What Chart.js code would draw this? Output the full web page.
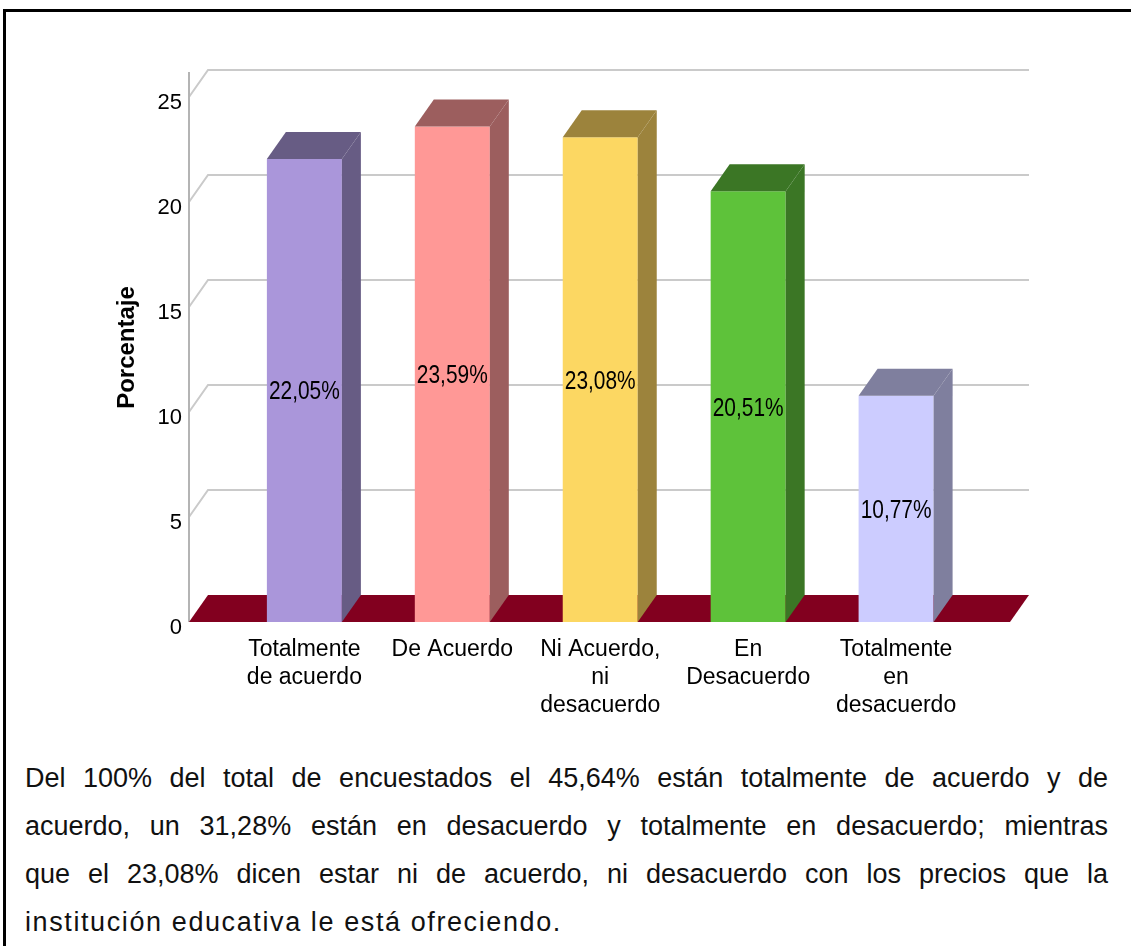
<!DOCTYPE html>
<html>
<head>
<meta charset="utf-8">
<script src="https://cdn.jsdelivr.net/npm/chart.js@4"></script>
<style>
  body { margin: 0; background: #fff; width: 1131px; height: 946px; overflow: hidden; position: relative; font-family: "Liberation Sans", Arial, sans-serif; }
  .frame { position: absolute; left: 3px; top: 9px; width: 1200px; height: 1000px; border: 3px solid #000; box-sizing: border-box; }
  .chart-box { position: absolute; left: 0; top: 0; width: 1131px; height: 740px; }
  .texto { position: absolute; left: 25px; top: 754px; width: 1083px; font-size: 27px; line-height: 48px; color: #111; }
  .texto div { text-align: justify; text-align-last: justify; white-space: nowrap; }
  .texto div.ultima { text-align-last: left; letter-spacing: 1.6px; }
</style>
</head>
<body>
<div class="frame"></div>
<div class="chart-box"><canvas id="grafico" width="1131" height="740"></canvas></div>
<div class="texto">
  <div>Del 100% del total de encuestados el 45,64% están totalmente de acuerdo y de</div>
  <div>acuerdo, un 31,28% están en desacuerdo y totalmente en desacuerdo; mientras</div>
  <div>que el 23,08% dicen estar ni de acuerdo, ni desacuerdo con los precios que la</div>
  <div class="ultima">institución educativa le está ofreciendo.</div>
</div>
<script>
// datos del gráfico
const categorias = [
  ['Totalmente', 'de acuerdo'],
  ['De Acuerdo'],
  ['Ni Acuerdo,', 'ni', 'desacuerdo'],
  ['En', 'Desacuerdo'],
  ['Totalmente', 'en', 'desacuerdo']
]
const porcentajes = [22.05, 23.59, 23.08, 20.51, 10.77]
const ticksY = [0, 5, 10, 15, 20, 25]
const tituloY = 'Porcentaje'

const coloresFrente = ['#aa96da', '#ff9896', '#fcd762', '#5ec23a', '#ccccff']
const coloresLado = ['#675c84', '#9c5e5e', '#9c833c', '#3b7625', '#7f7f9e']
const colorPiso = '#82001f'

// profundidad del efecto 3D
const DX = 19, DY = -27

const efecto3d = {
  id: 'efecto3d',
  beforeDatasetsDraw(chart) {
    const ctx = chart.ctx
    const area = chart.chartArea
    const y = chart.scales.y
    const base = y.getPixelForValue(0)
    ctx.save()
    // lineas de la pared del fondo
    ctx.strokeStyle = '#cacaca'
    ctx.lineWidth = 2
    ticksY.forEach(v => {
      if (v === 0) return
      const py = y.getPixelForValue(v)
      ctx.beginPath()
      ctx.moveTo(area.left, py)
      ctx.lineTo(area.left + DX, py + DY)
      ctx.lineTo(area.right + DX, py + DY)
      ctx.stroke()
    })
    // linea vertical izquierda
    ctx.strokeStyle = '#b4b4b4'
    ctx.beginPath()
    ctx.moveTo(area.left, area.top + DY + 2)
    ctx.lineTo(area.left, base)
    ctx.stroke()
    // piso
    ctx.fillStyle = colorPiso
    ctx.beginPath()
    ctx.moveTo(area.left, base)
    ctx.lineTo(area.right, base)
    ctx.lineTo(area.right + DX, base + DY)
    ctx.lineTo(area.left + DX, base + DY)
    ctx.closePath()
    ctx.fill()
    ctx.restore()
  },
  afterDatasetsDraw(chart) {
    const ctx = chart.ctx
    const barras = chart.getDatasetMeta(0).data
    ctx.save()
    barras.forEach((b, i) => {
      const x0 = b.x - b.width / 2
      const x1 = b.x + b.width / 2
      ctx.fillStyle = coloresLado[i]
      // cara superior
      ctx.beginPath()
      ctx.moveTo(x0, b.y)
      ctx.lineTo(x1, b.y)
      ctx.lineTo(x1 + DX, b.y + DY)
      ctx.lineTo(x0 + DX, b.y + DY)
      ctx.closePath()
      ctx.fill()
      // cara lateral
      ctx.beginPath()
      ctx.moveTo(x1, b.y)
      ctx.lineTo(x1 + DX, b.y + DY)
      ctx.lineTo(x1 + DX, b.base + DY)
      ctx.lineTo(x1, b.base)
      ctx.closePath()
      ctx.fill()
      // etiqueta del valor
      ctx.fillStyle = '#000'
      ctx.font = '22px "Liberation Sans", Arial, sans-serif'
      ctx.textAlign = 'center'
      ctx.textBaseline = 'middle'
      const texto = porcentajes[i].toFixed(2).replace('.', ',') + '%'
      ctx.save()
      ctx.translate(b.x, (b.y + b.base) / 2 + 2)
      ctx.scale(0.95, 1.15)
      ctx.fillText(texto, 0, 0)
      ctx.restore()
    })
    // titulo del eje Y
    const area = chart.chartArea
    ctx.save()
    ctx.translate(127, (area.top + area.bottom) / 2 - 12)
    ctx.rotate(-Math.PI / 2)
    ctx.fillStyle = '#000'
    ctx.font = 'bold 24px "Liberation Sans", Arial, sans-serif'
    ctx.textAlign = 'center'
    ctx.textBaseline = 'middle'
    ctx.fillText(tituloY, 0, 0)
    ctx.restore()
    ctx.restore()
  }
}

const ctx = document.getElementById('grafico').getContext('2d')
new Chart(ctx, {
  type: 'bar',
  data: {
    datasets: [{
      data: porcentajes.map((v, i) => ({ x: i, y: v })),
      backgroundColor: coloresFrente,
      borderWidth: 0,
      barPercentage: 1,
      categoryPercentage: 0.507
    }]
  },
  options: {
    responsive: false,
    animation: false,
    events: [],
    layout: { padding: { left: 100, top: 97, right: 121, bottom: 0 } },
    plugins: { legend: { display: false }, tooltip: { enabled: false } },
    scales: {
      x: {
        type: 'linear',
        offset: false,
        min: -0.78,
        max: 4.77,
        grid: { display: false, drawTicks: false, tickLength: 0, offset: false },
        border: { display: false },
        afterBuildTicks(scale) {
          scale.ticks = categorias.map((c, i) => ({ value: i }))
        },
        afterFit(scale) { scale.height = 118 },
        ticks: {
          autoSkip: false,
          maxRotation: 0,
          padding: 14,
          color: '#000',
          font: { family: '"Liberation Sans", Arial, sans-serif', size: 23, lineHeight: 1.22 },
          callback: value => categorias[value]
        }
      },
      y: {
        min: 0,
        max: 25,
        afterBuildTicks(scale) {
          scale.ticks = ticksY.map(v => ({ value: v }))
        },
        afterFit(scale) { scale.width = 89 },
        grid: { display: false, drawTicks: false, tickLength: 0 },
        border: { display: false },
        ticks: {
          padding: 7,
          labelOffset: 6,
          color: '#000',
          font: { family: '"Liberation Sans", Arial, sans-serif', size: 22 }
        }
      }
    }
  },
  plugins: [efecto3d]
})
</script>
</body>
</html>
